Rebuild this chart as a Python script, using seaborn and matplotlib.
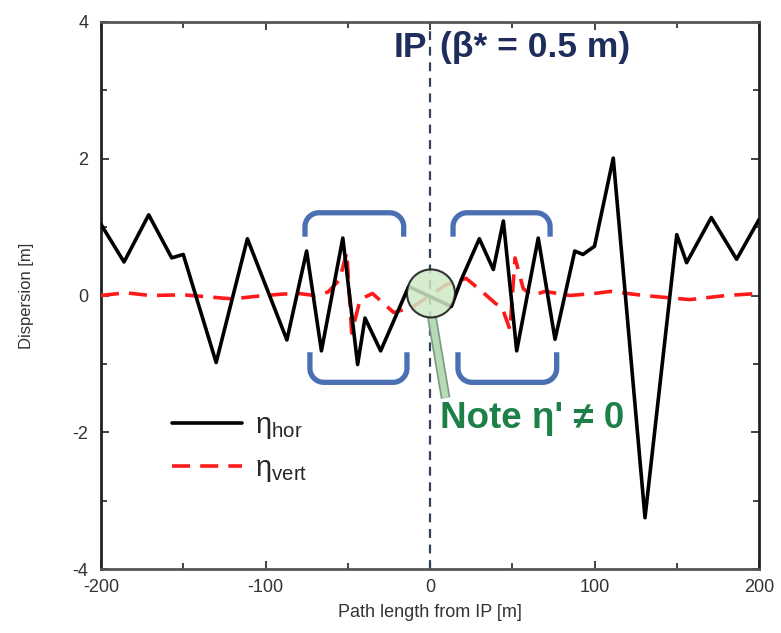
import numpy as np
import pandas as pd
import matplotlib
matplotlib.use("Agg")
import matplotlib.pyplot as plt
import seaborn as sns
from matplotlib.lines import Line2D
from matplotlib.patches import Ellipse

# ---- data ----
s_hor = [-200, -186, -171, -157, -150, -130, -111, -87, -75, -66, -53, -44, -39.5, -30,
         -13, 13, 19, 30, 38.5, 44.6, 52.7, 65.8, 76, 88, 93, 100, 111.4, 130.7, 150,
         156, 171, 186.4, 200]
eta_hor = [1.04, 0.49, 1.18, 0.55, 0.60, -0.98, 0.83, -0.65, 0.65, -0.81, 0.84, -1.01,
           -0.33, -0.81, 0.13, -0.16, 0.23, 0.83, 0.38, 1.09, -0.81, 0.84, -0.64, 0.65,
           0.60, 0.72, 2.01, -3.25, 0.89, 0.48, 1.14, 0.53, 1.11]

s_vert = [-200, -185, -170, -150, -135, -120, -105, -90, -80, -70, -62, -55, -50.6, -47.6,
          -42.5, -35, -22, -10, 10, 22, 32, 40, 43.6, 48.6, 51.7, 56.7, 62, 70, 85, 100,
          110, 130, 158, 180, 200]
eta_vert = [0.0, 0.04, 0.0, 0.01, -0.02, -0.05, -0.01, 0.02, 0.03, 0.0, 0.05, 0.23, 0.63,
            -0.55, -0.06, 0.03, -0.25, -0.16, 0.16, 0.25, 0.05, -0.12, -0.16, -0.50, 0.55,
            0.10, 0.0, 0.06, 0.0, 0.03, 0.06, 0.0, -0.06, 0.0, 0.03]

x_ticks = [-200, -100, 0, 100, 200]
y_ticks = [-4, -2, 0, 2, 4]
legend_labels = [r"η$_{\rm hor}$", r"η$_{\rm vert}$"]
title_left = "IP"
title_right = "(β* = 0.5 m)"
note_text = "Note η' ≠ 0"
xlabel = "Path length from IP [m]"
ylabel = "Dispersion [m]"

df_h = pd.DataFrame({"s": s_hor, "eta": eta_hor})
df_v = pd.DataFrame({"s": s_vert, "eta": eta_vert})

sns.set_style("ticks")
plt.rcParams["font.family"] = ["Liberation Sans", "DejaVu Sans"]
plt.rcParams["mathtext.fontset"] = "custom"
plt.rcParams["mathtext.rm"] = "Liberation Sans"
plt.rcParams["axes.unicode_minus"] = False

W, H, DPI = 781, 633, 100
fig = plt.figure(figsize=(W / DPI, H / DPI), dpi=DPI)
L, R, T, B = 101, 759, 22, 569
ax = fig.add_axes([L / W, 1 - B / H, (R - L) / W, (B - T) / H])

ax.axvline(0, color="#34405e", lw=1.6, ls=(0, (4, 3)), zorder=1)

sns.lineplot(data=df_v, x="s", y="eta", ax=ax, color="#ff1a1a", lw=2.6, sort=False,
             zorder=3)
ax.lines[-1].set_dashes([5, 2.8])
sns.lineplot(data=df_h, x="s", y="eta", ax=ax, color="black", lw=2.6, sort=False,
             zorder=4)

ax.set_xlim(-200, 200)
ax.set_ylim(-4, 4)
ax.set_xticks(x_ticks)
ax.set_yticks(y_ticks)
ax.set_xticks(np.arange(-150, 200, 100), minor=True)
ax.set_yticks([-3, -1, 1, 3], minor=True)
ax.tick_params(which="both", direction="in", top=True, right=True, colors="#222",
               labelcolor="#333", labelsize=13, width=1.2)
ax.tick_params(axis="y", which="major", pad=9)
ax.tick_params(axis="x", which="major", pad=7)
ax.tick_params(which="major", length=6)
ax.tick_params(which="minor", length=4)
for sp in ax.spines.values():
    sp.set_linewidth(2)
    sp.set_color("#222")
ax.spines["bottom"].set_color("#555")
ax.spines["top"].set_color("#555")
ax.set_xlabel(xlabel, fontsize=13, color="#333", labelpad=6)
ax.set_ylabel(ylabel, fontsize=12, color="#333", labelpad=28)

# pixel -> data scales
sx = (R - L) / 400.0
sy = (B - T) / 8.0

def bracket(x0, x1, y_base, y_tip, r_px=14):
    rx, ry = r_px / sx, r_px / sy
    sgn = 1 if y_tip > y_base else -1
    t = np.linspace(0, np.pi / 2, 20)
    xl = [x0, x0] + list(x0 + rx - rx * np.cos(t))
    yl = [y_base, y_tip - sgn * ry] + list(y_tip - sgn * ry + sgn * ry * np.sin(t))
    xr = list(x1 - rx + rx * np.sin(t)) + [x1, x1]
    yr = list(y_tip - sgn * ry + sgn * ry * np.cos(t)) + [y_tip - sgn * ry, y_base]
    ax.plot(xl + xr, yl + yr, color="#4b6fb3", lw=3.8, solid_capstyle="butt", zorder=5)

bracket(-76, -16, 0.86, 1.21)
bracket(-73, -14, -0.83, -1.27)
bracket(14, 73, 0.86, 1.21)
bracket(17, 77, -0.83, -1.27)

# pointer and circle
ax.plot([1.2, 9.5], [-0.32, -1.5], color="#7f9a86", lw=7, solid_capstyle="butt", zorder=6)
ax.plot([1.2, 9.5], [-0.32, -1.5], color="#b6dcb6", lw=4.5, solid_capstyle="butt", zorder=6)
ax.add_patch(Ellipse((0.6, 0.03), 2 * 24 / sx, 2 * 24 / sy, facecolor="#cfe9c6",
                     edgecolor="#111", lw=1.5, alpha=0.85, zorder=7))

ax.text(6, -1.8, note_text, fontsize=26.5, fontweight="bold", color="#1c8048",
        ha="left", va="center", zorder=8)
ax.text(-1.5, 3.62, title_left, fontsize=25.5, fontweight="bold", color="#1f2d5c",
        ha="right", va="center")
ax.text(6, 3.62, title_right, fontsize=25.5, fontweight="bold", color="#1f2d5c",
        ha="left", va="center")

handles = [Line2D([], [], color="black", lw=2.6),
           Line2D([], [], color="#ff1a1a", lw=2.6, dashes=[5, 2.8])]
ax.legend(handles, legend_labels, loc="upper left", bbox_to_anchor=(0.085, 0.315),
          frameon=False, fontsize=21, handlelength=2.4, handletextpad=0.45,
          labelspacing=0.45, borderpad=0)

fig.savefig("out.png", dpi=DPI)
